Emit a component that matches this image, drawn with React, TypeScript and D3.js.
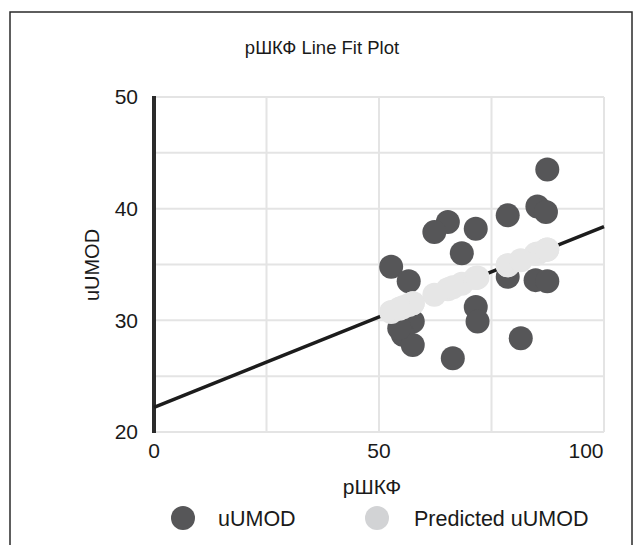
import React from 'react';
import { scaleLinear } from 'd3';

// values
const pshkf = [87.4, 85.2, 87.1, 78.6, 65.3, 62.3, 71.5, 68.4, 52.7, 56.6, 78.6, 84.8, 87.4, 71.5, 71.9, 57.5, 55.3, 57.5, 66.4, 81.5, 54.5];
const uumod = [43.5, 40.2, 39.7, 39.4, 38.8, 37.9, 38.2, 36.0, 34.8, 33.5, 33.9, 33.6, 33.5, 31.2, 29.9, 29.9, 28.7, 27.8, 26.6, 28.4, 29.3];
const predicted = [36.35, 35.99, 36.3, 34.93, 32.78, 32.3, 33.78, 33.28, 30.75, 31.38, 34.93, 35.93, 36.35, 33.78, 33.84, 31.52, 31.17, 31.52, 32.96, 35.39, 31.04];
const fitX = [0, 100];
const fitY = [22.2, 38.4];
const xTicks = [0, 50, 100];
const xGrid = [0, 25, 50, 75, 100];
const yTicks = [20, 30, 40, 50];
const yGrid = [20, 25, 30, 35, 40, 45, 50];

const W = 642;
const H = 545;
const font = '"Liberation Sans", Arial, sans-serif';

export default function App() {
  const x = scaleLinear().domain([0, 100]).range([154, 604]);
  const y = scaleLinear().domain([20, 50]).range([432, 97]);

  const r = 12;

  return (
    <svg width={W} height={H} style={{ position: 'absolute', left: 0, top: 0, background: '#fff' }}>
      <rect x={10} y={12} width={622} height={H + 10} fill="#fff" stroke="#2a2a2a" strokeWidth={1.5} />
      <text x={322} y={48} dy="0.35em" textAnchor="middle" fontFamily={font} fontSize={18.5} fill="#1a1a1a">
        рШКФ Line Fit Plot
      </text>

      {/* grid */}
      {yGrid.map(v => (
        <line key={'gy' + v} x1={x(0)} x2={x(100)} y1={y(v)} y2={y(v)} stroke="#e4e4e4" strokeWidth={2} />
      ))}
      {xGrid.map(v => (
        <line key={'gx' + v} x1={x(v)} x2={x(v)} y1={y(20)} y2={y(50)} stroke="#e4e4e4" strokeWidth={2} />
      ))}
      <line x1={x(0)} x2={x(0)} y1={y(50) - 1} y2={y(20) + 1} stroke="#2b2b2b" strokeWidth={4} />

      {/* tick labels */}
      {yTicks.map(v => (
        <text key={'ty' + v} x={138} y={y(v)} dy="0.35em" textAnchor="end" fontFamily={font} fontSize={21} fill="#1a1a1a">
          {v}
        </text>
      ))}
      {xTicks.map(v => (
        <text key={'tx' + v} x={v === 100 ? x(v) - 18 : x(v)} y={451} dy="0.35em" textAnchor="middle" fontFamily={font} fontSize={21} fill="#1a1a1a">
          {v}
        </text>
      ))}
      <text x={372} y={487} dy="0.35em" textAnchor="middle" fontFamily={font} fontSize={21} fill="#1a1a1a">
        рШКФ
      </text>
      <text transform={`translate(92,265) rotate(-90)`} dy="0.35em" textAnchor="middle" fontFamily={font} fontSize={20} fill="#1a1a1a">
        uUMOD
      </text>

      {/* observed */}
      {pshkf.map((v, i) => (
        <circle key={'o' + i} cx={x(v)} cy={y(uumod[i])} r={r} fill="#565658" />
      ))}
      {/* fit line */}
      <line x1={x(fitX[0])} y1={y(fitY[0])} x2={x(fitX[1])} y2={y(fitY[1])} stroke="#1c1c1c" strokeWidth={3.5} />
      {/* predicted */}
      {pshkf.map((v, i) => (
        <circle key={'p' + i} cx={x(v)} cy={y(predicted[i])} r={r} fill="#e6e6e6" />
      ))}

      {/* legend */}
      <circle cx={183} cy={518} r={12} fill="#565658" />
      <text x={218} y={518} dy="0.35em" fontFamily={font} fontSize={21.5} fill="#1a1a1a">uUMOD</text>
      <circle cx={377} cy={518} r={12} fill="#d2d3d5" />
      <text x={414} y={518} dy="0.35em" fontFamily={font} fontSize={21.5} fill="#1a1a1a">Predicted uUMOD</text>
    </svg>
  );
}
